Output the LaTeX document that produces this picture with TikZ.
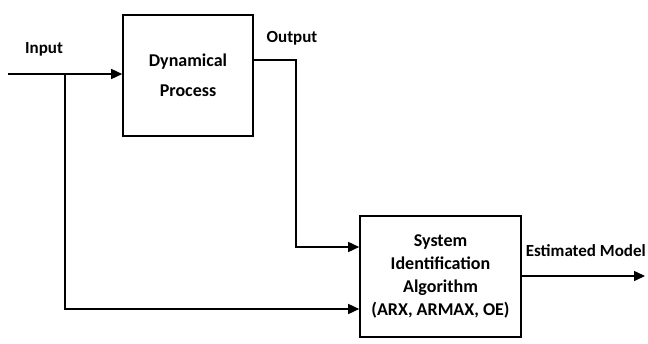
\documentclass[tikz,border=0pt]{standalone}
\usepackage{fontspec}
\setmainfont{Carlito}
\usetikzlibrary{arrows.meta}
\begin{document}
\begin{tikzpicture}[x=1pt,y=-1pt,
  blk/.style={draw,line width=1.6pt,inner sep=0pt,font=\bfseries\fontsize{18}{23}\selectfont,align=center},
  wire/.style={line width=1.5pt},
  flow/.style={wire,-{Triangle[length=11pt,width=10pt]}},
  lbl/.style={font=\bfseries\fontsize{17}{20}\selectfont,inner sep=0pt}]
\useasboundingbox (0,0) rectangle (648,343);
% blocks
\node[blk,minimum width=130pt,minimum height=121pt,font=\bfseries\fontsize{18}{30}\selectfont] (dp) at (188,75.5) {Dynamical\\Process};
\node[blk,minimum width=161pt,minimum height=121pt] (si) at (440.5,276.5) {System\\Identification\\Algorithm\\(ARX, ARMAX, OE)};
% free ends
\coordinate (in) at (8,74);
\coordinate (out) at (645,276);
\coordinate (j) at (65,74);
% input path and branch
\draw[flow] (in) -- (dp.west |- in);
\draw[flow] (j) |- (si.west |- 0,309);
% output to identification
\draw[flow] (dp.east |- 0,60) -| (296,247) -- (si.west |- 0,247);
% estimated model
\draw[flow] (si.east |- out) -- (out);
% labels
\node[lbl] (li) at (44,49) {Input};
\node[lbl] (lo) at (292,38) {Output};
\node[lbl,anchor=east] (le) at (646,251) {Estimated Model};
\end{tikzpicture}
\end{document}
